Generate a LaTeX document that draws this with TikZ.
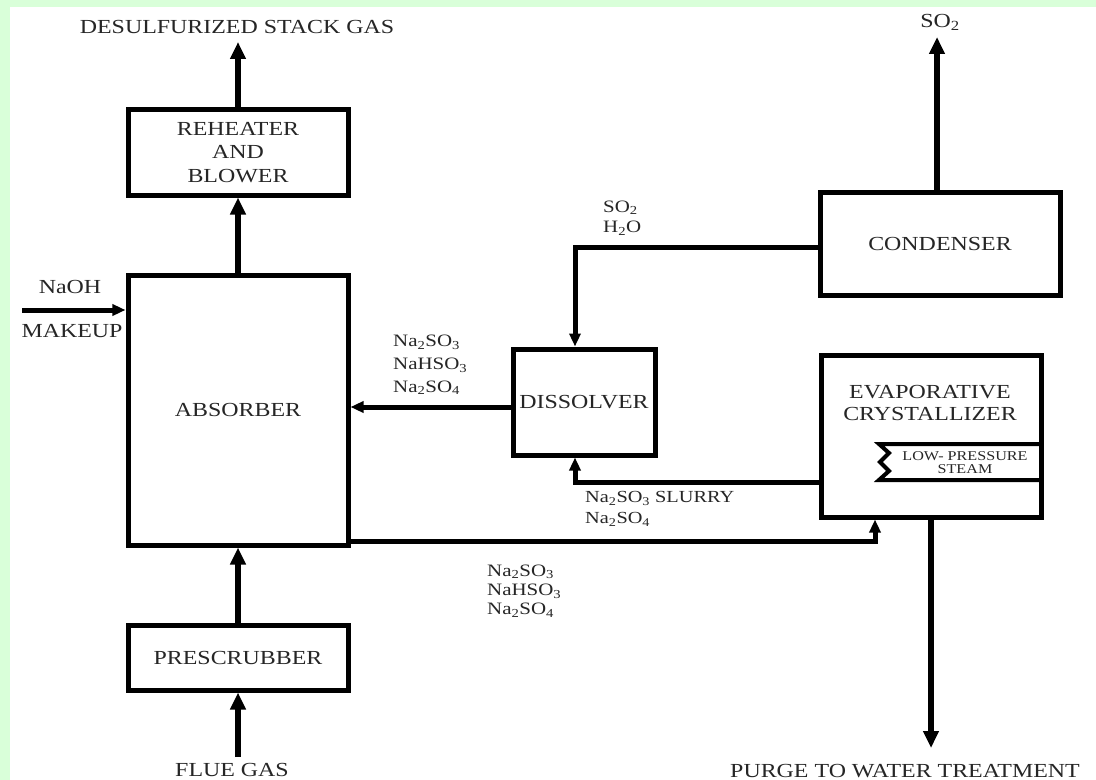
\documentclass[tikz,border=0pt]{standalone}
\usepackage{fontspec}
\setmainfont{Liberation Serif}[FakeStretch=1.2]
\usetikzlibrary{arrows.meta}
\definecolor{bggreen}{HTML}{D9FFD9}
\definecolor{txt}{HTML}{262626}
\newcommand\mainfs{\fontsize{20}{23.5}\selectfont}
\newcommand\chemfs{\fontsize{17.5}{23}\selectfont}
\newcommand\steamfs{\fontsize{13.5}{13}\selectfont}
\begin{document}
\begin{tikzpicture}[x=1bp,y=-1bp,
  box/.style={draw=black, line width=5bp, inner sep=0pt, align=center, font=\mainfs, text=txt},
  lbl/.style={inner sep=0pt, font=\mainfs, text=txt, align=center},
  chem/.style={inner sep=0pt, font=\chemfs, text=txt, align=left, anchor=west},
  bigarr/.style={line width=5.5bp, -{Triangle[length=17bp,width=15bp]}},
  smallarr/.style={line width=5bp, -{Triangle[length=13bp,width=11bp]}},
  coil/.style={line width=4bp}]
\fill[bggreen] (0,0) rectangle (1096,780);
\fill[white] (10,7) rectangle (1096,780);
\useasboundingbox (0,0) rectangle (1096,780);

% boxes
\node[box, minimum width=220bp, minimum height=85bp] (reheater) at (238,152.5) {REHEATER\\AND\\BLOWER};
\node[box, minimum width=220bp, minimum height=270bp] (absorber) at (238,410) {ABSORBER};
\node[box, minimum width=220bp, minimum height=65bp] (prescrubber) at (238,657.5) {PRESCRUBBER};
\node[box, minimum width=142bp, minimum height=106bp] (dissolver) at (584,402) {DISSOLVER};
\node[box, minimum width=240bp, minimum height=103bp] (condenser) at (940,243.5) {CONDENSER};
\node[box, minimum width=220bp, minimum height=162bp] (cryst) at (931,436) {};
\node[lbl, font=\fontsize{20}{22}\selectfont] (crysttxt) at (930,403) {EVAPORATIVE\\CRYSTALLIZER};

% steam coil
\draw[coil] (1041,444) -- (879,444) -- (889,453) -- (880,462) -- (889,471) -- (879,480) -- (1041,480);
\node[lbl, font=\steamfs] (steam) at (965,462.5) {LOW- PRESSURE\\STEAM};

% labels
\node[lbl] (stacklbl) at (237,27) {DESULFURIZED STACK GAS};
\coordinate (stacktip) at (238,42);
\node[lbl] (so2lbl) at (940,22) {SO\textsubscript{2}};
\coordinate (so2tip) at (937,37);
\node[lbl] (naohlbl) at (70,287) {NaOH};
\node[lbl] (makeuplbl) at (72,331) {MAKEUP};
\coordinate (naohstart) at (22,310);
\node[lbl] (fluelbl) at (232,770) {FLUE GAS};
\coordinate (fluestart) at (238,757);
\node[lbl] (purgelbl) at (905,771) {PURGE TO WATER TREATMENT};
\coordinate (purgetip) at (931,748);

\node[chem] (chem1) at (393,365) {Na\textsubscript{2}SO\textsubscript{3}\\NaHSO\textsubscript{3}\\Na\textsubscript{2}SO\textsubscript{4}};
\node[chem, font=\fontsize{17.5}{21}\selectfont] (chem2) at (603,218) {SO\textsubscript{2}\\H\textsubscript{2}O};
\node[chem, font=\fontsize{17}{21}\selectfont] (chem3) at (585,509) {Na\textsubscript{2}SO\textsubscript{3} SLURRY\\Na\textsubscript{2}SO\textsubscript{4}};
\node[chem, font=\fontsize{17.5}{19.5}\selectfont] (chem4) at (487,591) {Na\textsubscript{2}SO\textsubscript{3}\\NaHSO\textsubscript{3}\\Na\textsubscript{2}SO\textsubscript{4}};

% connectors
\draw[bigarr] (reheater.north) -- (stacktip);
\draw[bigarr] (absorber.north) -- (reheater.south);
\draw[bigarr] (prescrubber.north) -- (absorber.south);
\draw[bigarr] (fluestart) -- (prescrubber.south);
\draw[smallarr] (naohstart) -- (naohstart -| absorber.west);

\coordinate (d1) at ([yshift=-5bp]dissolver.west);
\draw[smallarr] (d1) -- (d1 -| absorber.east);

\coordinate (c1) at ([yshift=-4bp]condenser.west);
\coordinate (dtop) at ([xshift=-9bp]dissolver.north);
\draw[smallarr] (c1) -| (dtop);

\coordinate (x1) at ([yshift=-46bp]cryst.west);
\coordinate (dbot) at ([xshift=-9bp]dissolver.south);
\draw[smallarr] (x1) -| (dbot);

\coordinate (a1) at ([yshift=-131bp]absorber.east);
\coordinate (xbot) at ([xshift=-56bp]cryst.south);
\draw[smallarr] (a1) -| (xbot);

\draw[bigarr] (so2tip |- condenser.north) -- (so2tip);
\draw[bigarr] (cryst.south) -- (purgetip);
\end{tikzpicture}
\end{document}
